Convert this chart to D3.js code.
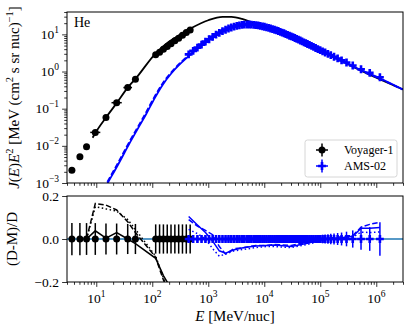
<!DOCTYPE html>
<html>
<head>
<meta charset="utf-8">
<script src="https://cdn.jsdelivr.net/npm/d3@7"></script>
<style>
  body { margin: 0; background: #fff; }
  svg, text, tspan { font-family: "Liberation Serif", "Times New Roman", "DejaVu Serif", serif; }
</style>
</head>
<body>
<div id="chart"></div>
<script>
// Voyager-1 He data, E^2 J in MeV (cm2 s sr nuc)^-1
const voyE   = [3.67, 5.1, 6.7, 9.6, 14.9, 23.1, 36.4, 50, 115, 135, 158, 185, 216, 253, 296, 346, 405, 475];
const voyElo = [3.5, 4.85, 6.35, 7.8, 13.4, 18.7, 30.5, 47, 107, 125, 146, 171, 200, 234, 274, 320, 375, 440];
const voyEhi = [3.85, 5.35, 7.05, 11.8, 16.5, 28.5, 43.5, 53, 125, 146, 171, 200, 234, 274, 320, 375, 440, 510];
const voyF   = [0.0022, 0.0051, 0.0094, 0.023, 0.058, 0.145, 0.37, 0.62, 2.85, 3.3, 4.0, 4.7, 5.6, 6.7, 7.9, 9.4, 11.2, 13.2];
const voyErr = [0.075, 0.075, 0.074, 0.074, 0.072, 0.072, 0.07, 0.07, 0.068, 0.068, 0.068, 0.068, 0.068, 0.068, 0.068, 0.068, 0.068, 0.068];

// AMS-02 He data
const amsE = [446, 537, 640, 758, 890, 1033, 1198, 1375, 1573, 1793,
  2034, 2296, 2579, 2893, 3229, 3595, 3993, 4400, 4890, 5390,
  5880, 6480, 7070, 7770, 8460, 9260, 10060, 10950, 11950, 12950,
  14050, 15250, 16500, 17800, 19300, 20800, 22500, 24200, 26100, 28200,
  30300, 32700, 35200, 37900, 40800, 43900, 47300, 51100, 55100, 59100,
  64100, 69600, 75600, 82600, 90600, 99600, 110000, 122000, 137000, 154000,
  176000, 204000, 240000, 294000, 380000, 534000, 764000, 1161000];
const amsF = [2.9, 3.6, 4.4, 5.3, 6.4, 7.4, 8.6, 9.8, 11.0, 12.2,
  13.3, 14.4, 15.3, 16.2, 16.9, 17.5, 18.0, 18.3, 18.4, 18.4,
  18.3, 18.1, 17.8, 17.4, 17.0, 16.5, 16.0, 15.5, 14.9, 14.4,
  13.9, 13.3, 12.8, 12.3, 11.7, 11.2, 10.7, 10.2, 9.7, 9.2,
  8.8, 8.4, 8.0, 7.6, 7.2, 6.85, 6.5, 6.1, 5.8, 5.5,
  5.2, 4.9, 4.6, 4.3, 4.0, 3.75, 3.5, 3.25, 3.0, 2.75,
  2.5, 2.25, 2.0, 1.75, 1.45, 1.15, 0.92, 0.7];
const amsErr = [0.012, 0.012, 0.012, 0.012, 0.012, 0.012, 0.012, 0.012, 0.012, 0.012,
  0.012, 0.012, 0.012, 0.012, 0.012, 0.012, 0.012, 0.012, 0.012, 0.012,
  0.012, 0.012, 0.012, 0.012, 0.012, 0.012, 0.012, 0.012, 0.012, 0.012,
  0.012, 0.012, 0.012, 0.012, 0.012, 0.012, 0.012, 0.012, 0.012, 0.012,
  0.013, 0.013, 0.013, 0.013, 0.013, 0.013, 0.013, 0.013, 0.013, 0.013,
  0.015, 0.015, 0.016, 0.017, 0.018, 0.019, 0.02, 0.021, 0.022, 0.024,
  0.026, 0.028, 0.03, 0.034, 0.04, 0.05, 0.055, 0.078];

// model spectra (top panel)
const blkE = [8.6, 9.6, 14.9, 23.1, 36.4, 50, 115, 185, 300, 500, 1000, 1800, 2600, 4000, 6000, 8000, 12600, 25000, 50000, 1e5, 2e5, 5e5, 1e6, 3e6];
const blkF = [0.0165, 0.0221, 0.058, 0.141, 0.37, 0.635, 3.1, 5.9, 9.4, 14.8, 24, 29.5, 29.5, 26, 21, 17.8, 14.6, 10.1, 6.2, 3.8, 2.25, 1.1, 0.68, 0.33];
const bluE = [14, 16, 25, 39, 60, 78, 110, 155, 220, 308, 446, 640, 890, 1198, 1573, 2034, 2893, 4400, 7070, 10950, 15250, 30300, 59100, 99600, 240000, 534000, 1161000, 3e6];
const bluF = [0.0007, 0.001, 0.0033, 0.0115, 0.036, 0.072, 0.19, 0.45, 0.9, 1.55, 2.6, 4.15, 6.3, 8.9, 11.7, 14.0, 17.0, 19.0, 18.4, 16.0, 13.7, 9.1, 5.6, 3.75, 1.99, 1.09, 0.66, 0.33];

// residuals (D-M)/D, three models
const kResE   = [6.7, 9.6, 14.9, 23.1, 36.4, 50, 115, 135, 158, 185, 216, 253];
const kSolid  = [0, 0.038, 0.004, 0.03, 0.0, -0.022, -0.09, -0.13, -0.17, -0.2, -0.24, -0.29];
const kDash   = [0, 0.165, 0.158, 0.135, 0.08, 0.03, -0.085, -0.14, -0.19, -0.23, -0.27, -0.32];
const kDot    = [0, 0.15, 0.14, 0.13, 0.09, 0.045, -0.08, -0.13, -0.18, -0.22, -0.26, -0.31];
const bResE   = [446, 640, 890, 1198, 1573, 2034, 2893, 4400, 7070, 10950, 15250, 30300, 59100, 99600, 154000, 240000, 294000, 380000, 534000, 764000, 1161000];
const bSolid  = [0.105, 0.065, 0.03, -0.01, -0.055, -0.066, -0.05, -0.04, -0.033, -0.03, -0.028, -0.035, -0.02, -0.005, 0.003, 0.005, 0.01, 0.012, 0.05, 0.05, 0.053];
const bDash   = [0.09, 0.06, 0.04, 0.02, -0.035, -0.07, -0.045, -0.04, -0.03, -0.03, -0.025, -0.03, -0.015, 0, 0.005, 0.01, 0.015, 0.015, 0.055, 0.068, 0.078];
const bDot    = [0.045, 0.025, 0, -0.045, -0.08, -0.07, -0.055, -0.048, -0.04, -0.035, -0.035, -0.04, -0.025, -0.01, 0, 0.005, 0.008, 0.008, 0.032, 0.03, 0.033];

const xMajor = [1e1, 1e2, 1e3, 1e4, 1e5, 1e6];
const xSup = ["1", "2", "3", "4", "5", "6"];
const yMajor = [1e-3, 1e-2, 1e-1, 1e0, 1e1];
const ySup = ["\u22123", "\u22122", "\u22121", "0", "1"];
const rTicks = [-0.2, 0, 0.2];
const rLabels = ["\u22120.2", "0.0", "0.2"];

const FONT = "'Liberation Serif', 'Times New Roman', 'DejaVu Serif', serif";
const W = 415, H = 330;
const L = 67, R = 403, T1 = 12, B1 = 183, T2 = 196, B2 = 282;
const BLUE = "#0000ff";

const x = d3.scaleLog().domain([3, 3e6]).range([L, R]);
const y = d3.scaleLog().domain([1e-3, 40]).range([B1, T1]);
const yr = d3.scaleLinear().domain([-0.2, 0.2]).range([B2, T2]);

const svg = d3.select("#chart").append("svg").attr("width", W).attr("height", H)
  .attr("font-family", FONT);
const defs = svg.append("defs");
defs.append("clipPath").attr("id", "c1").append("rect").attr("x", L).attr("y", T1).attr("width", R - L).attr("height", B1 - T1);
defs.append("clipPath").attr("id", "c2").append("rect").attr("x", L).attr("y", T2).attr("width", R - L).attr("height", B2 - T2);

// minor ticks
const xMinor = [];
for (let d = 0; d <= 6; d++) for (let k = 2; k <= 9; k++) { const v = k * Math.pow(10, d); if (v >= 3 && v <= 3e6) xMinor.push(v); }
const yMinor = [];
for (let d = -3; d <= 1; d++) for (let k = 2; k <= 9; k++) { const v = k * Math.pow(10, d); if (v <= 40) yMinor.push(v); }

function tidy(g) {
  g.select(".domain").remove();
  g.selectAll("line").attr("stroke", "#000").attr("stroke-width", 0.8);
}
function xTicks(yPos) {
  svg.append("g").attr("transform", `translate(0,${yPos})`)
    .call(d3.axisBottom(x).tickValues(xMinor).tickSize(2.8).tickFormat("")).call(tidy);
  svg.append("g").attr("transform", `translate(0,${yPos})`)
    .call(d3.axisBottom(x).tickValues(xMajor).tickSize(4.9).tickFormat("")).call(tidy);
}
function powLabel(sel, sup) {
  sel.append("tspan").text("10");
  sel.append("tspan").attr("dy", -6).attr("font-size", 9.5).text(sup);
}
function txt(parent) {
  return parent.append("text").attr("font-family", FONT).attr("fill", "#000");
}

// ---------- top panel ----------
xTicks(B1);
svg.append("g").attr("transform", `translate(${L},0)`)
  .call(d3.axisLeft(y).tickValues(yMinor).tickSize(2.8).tickFormat("")).call(tidy);
svg.append("g").attr("transform", `translate(${L},0)`)
  .call(d3.axisLeft(y).tickValues(yMajor).tickSize(4.9).tickFormat("")).call(tidy);
yMajor.forEach((v, i) => {
  const t = txt(svg).attr("x", 59).attr("y", y(v) + 4.5)
    .attr("text-anchor", "end").attr("font-size", 13.5);
  powLabel(t, ySup[i]);
});

const p1 = svg.append("g").attr("clip-path", "url(#c1)");
const lineTop = d3.line().x(d => x(d[0])).y(d => y(d[1])).curve(d3.curveMonotoneX);
p1.append("path").datum(d3.zip(blkE, blkF)).attr("d", lineTop)
  .attr("fill", "none").attr("stroke", "#000").attr("stroke-width", 1.8);
p1.append("path").datum(d3.zip(bluE, bluF)).attr("d", lineTop)
  .attr("fill", "none").attr("stroke", BLUE).attr("stroke-width", 1.8);
p1.append("path").datum(d3.zip(bluE, bluF)).attr("d", lineTop)
  .attr("fill", "none").attr("stroke", BLUE).attr("stroke-width", 1.8).attr("stroke-dasharray", "5.5,2.4")
  .attr("transform", "translate(-1,0)");

// Voyager points
voyE.forEach((e, i) => {
  const f = voyF[i];
  p1.append("line").attr("x1", x(voyElo[i])).attr("x2", x(voyEhi[i])).attr("y1", y(f)).attr("y2", y(f))
    .attr("stroke", "#000").attr("stroke-width", 1.5);
  p1.append("line").attr("x1", x(e)).attr("x2", x(e)).attr("y1", y(f * (1 - voyErr[i]))).attr("y2", y(f * (1 + voyErr[i])))
    .attr("stroke", "#000").attr("stroke-width", 1.5);
  p1.append("circle").attr("cx", x(e)).attr("cy", y(f)).attr("r", 3.5).attr("fill", "#000");
});
// AMS points
const cross = d3.symbol().type(d3.symbolCross).size(34);
amsE.forEach((e, i) => {
  const f = amsF[i];
  p1.append("line").attr("x1", x(e)).attr("x2", x(e)).attr("y1", y(f * (1 - amsErr[i]))).attr("y2", y(f * (1 + amsErr[i])))
    .attr("stroke", BLUE).attr("stroke-width", 1.5);
  p1.append("path").attr("d", cross).attr("transform", `translate(${x(e)},${y(f)})`).attr("fill", BLUE);
});

svg.append("rect").attr("x", L).attr("y", T1).attr("width", R - L).attr("height", B1 - T1)
  .attr("fill", "none").attr("stroke", "#000").attr("stroke-width", 1);

txt(svg).attr("x", 74).attr("y", 27).attr("font-size", 14).text("He");

// legend
const lg = svg.append("g");
lg.append("rect").attr("x", 305).attr("y", 140).attr("width", 92).attr("height", 37).attr("rx", 2.5)
  .attr("fill", "#fff").attr("fill-opacity", 0.8).attr("stroke", "#cccccc").attr("stroke-width", 0.8);
[[150, "Voyager-1", "#000"], [166, "AMS-02", BLUE]].forEach(([ly, name, c], i) => {
  lg.append("line").attr("x1", 316).attr("x2", 328).attr("y1", ly).attr("y2", ly).attr("stroke", c).attr("stroke-width", 1.5);
  lg.append("line").attr("x1", 322).attr("x2", 322).attr("y1", ly - 6.5).attr("y2", ly + 6.5).attr("stroke", c).attr("stroke-width", 1.5);
  if (i === 0) lg.append("circle").attr("cx", 322).attr("cy", ly).attr("r", 3.5).attr("fill", c);
  else lg.append("path").attr("d", cross).attr("transform", `translate(322,${ly})`).attr("fill", c);
  txt(lg).attr("x", 344).attr("y", ly + 4).attr("font-size", 12).text(name);
});

// y label top
const yl = txt(svg).attr("transform", `translate(19,${(T1 + B1) / 2}) rotate(-90)`)
  .attr("text-anchor", "middle").attr("font-size", 15);
yl.append("tspan").attr("font-style", "italic").text("J");
yl.append("tspan").text("(");
yl.append("tspan").attr("font-style", "italic").text("E");
yl.append("tspan").text(")");
yl.append("tspan").attr("font-style", "italic").text("E");
yl.append("tspan").attr("dy", -6).attr("font-size", 10.5).text("2");
yl.append("tspan").attr("dy", 6).text(" [MeV (cm");
yl.append("tspan").attr("dy", -6).attr("font-size", 10.5).text("2");
yl.append("tspan").attr("dy", 6).text(" s sr nuc)");
yl.append("tspan").attr("dy", -6).attr("font-size", 10.5).text("\u22121");
yl.append("tspan").attr("dy", 6).text("]");

// ---------- bottom panel ----------
xTicks(B2);
svg.append("g").attr("transform", `translate(${L},0)`)
  .call(d3.axisLeft(yr).tickValues(rTicks).tickSize(4.9).tickFormat("")).call(tidy);
rTicks.forEach((v, i) => {
  txt(svg).attr("x", 59).attr("y", yr(v) + 4.5).attr("text-anchor", "end")
    .attr("font-size", 13.5).text(rLabels[i]);
});
xMajor.forEach((v, i) => {
  const t = txt(svg).attr("x", x(v)).attr("y", B2 + 21).attr("text-anchor", "middle").attr("font-size", 13.5);
  powLabel(t, xSup[i]);
});

const p2 = svg.append("g").attr("clip-path", "url(#c2)");
p2.append("line").attr("x1", L).attr("x2", R).attr("y1", yr(0)).attr("y2", yr(0))
  .attr("stroke", "#1f77b4").attr("stroke-width", 1.3);

voyE.forEach((e, i) => {
  p2.append("line").attr("x1", x(e)).attr("x2", x(e)).attr("y1", yr(-voyErr[i])).attr("y2", yr(voyErr[i]))
    .attr("stroke", "#000").attr("stroke-width", 1.5);
  p2.append("circle").attr("cx", x(e)).attr("cy", yr(0)).attr("r", 3.5).attr("fill", "#000");
});
amsE.forEach((e, i) => {
  p2.append("line").attr("x1", x(e)).attr("x2", x(e)).attr("y1", yr(-amsErr[i])).attr("y2", yr(amsErr[i]))
    .attr("stroke", BLUE).attr("stroke-width", 1.5);
  p2.append("path").attr("d", cross).attr("transform", `translate(${x(e)},${yr(0)})`).attr("fill", BLUE);
});

const lineRes = d3.line().x(d => x(d[0])).y(d => yr(d[1]));
[[kResE, kSolid, "#000", null], [kResE, kDash, "#000", "5.5,2.4"], [kResE, kDot, "#000", "1.5,2.5"],
 [bResE, bSolid, BLUE, null], [bResE, bDash, BLUE, "5.5,2.4"], [bResE, bDot, BLUE, "1.5,2.5"]]
  .forEach(([es, rs, c, dash]) => {
    p2.append("path").datum(d3.zip(es, rs)).attr("d", lineRes)
      .attr("fill", "none").attr("stroke", c).attr("stroke-width", 1.5)
      .attr("stroke-dasharray", dash);
  });

svg.append("rect").attr("x", L).attr("y", T2).attr("width", R - L).attr("height", B2 - T2)
  .attr("fill", "none").attr("stroke", "#000").attr("stroke-width", 1);

txt(svg).attr("transform", `translate(17,${(T2 + B2) / 2}) rotate(-90)`)
  .attr("text-anchor", "middle").attr("font-size", 15).text("(D-M)/D");

const xl = txt(svg).attr("x", (L + R) / 2).attr("y", 321).attr("text-anchor", "middle").attr("font-size", 15);
xl.append("tspan").attr("font-style", "italic").text("E");
xl.append("tspan").text(" [MeV/nuc]");
</script>
</body>
</html>
